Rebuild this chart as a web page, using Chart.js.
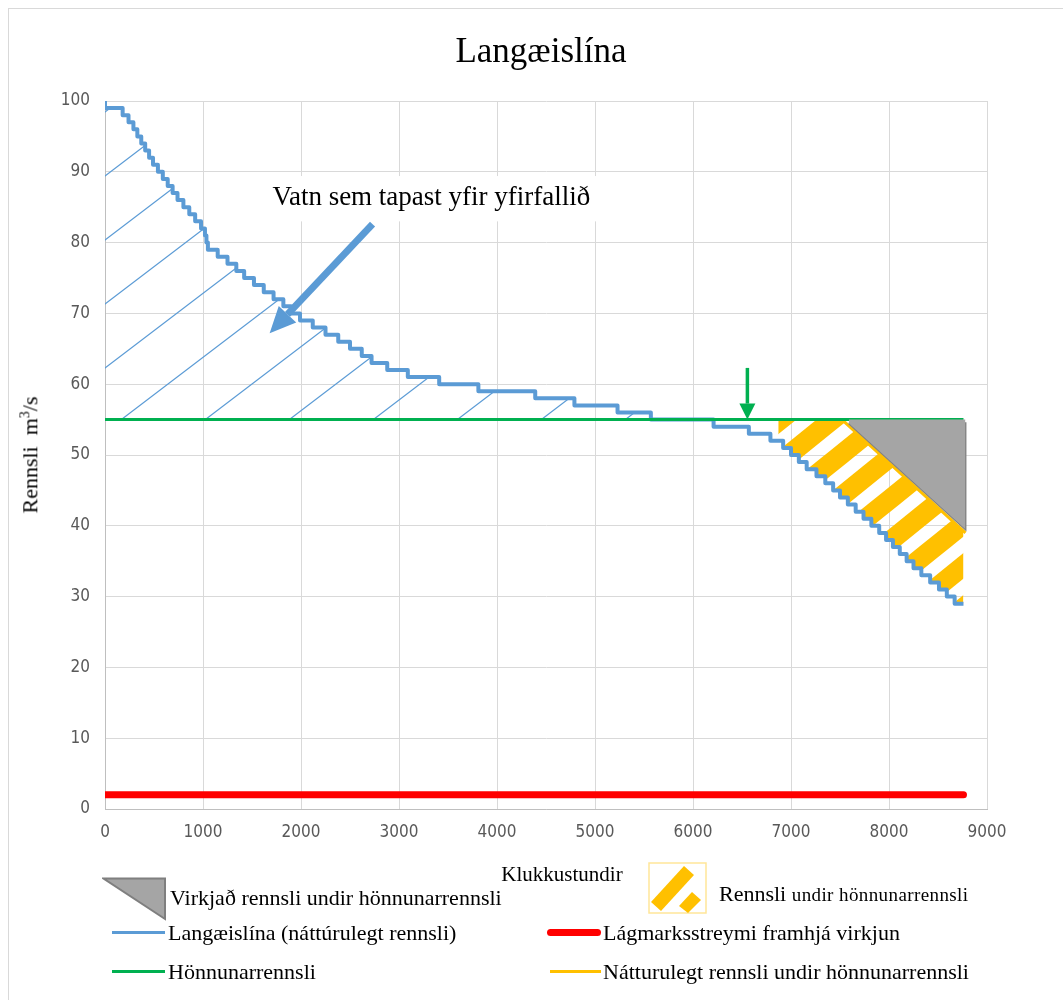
<!DOCTYPE html>
<html lang="is">
<head>
<meta charset="UTF-8">
<title>Langæislína</title>
<style>
    html, body {
        margin: 0;
        padding: 0;
        background: #fff;
        overflow: hidden;
    }

    #wrap {
        position: relative;
        width: 1063px;
        height: 1000px;
    }

    #frame {
        position: absolute;
        left: 8px;
        top: 8px;
        width: 1100px;
        height: 1100px;
        border: 1px solid #d9d9d9;
        box-sizing: border-box;
    }

    #chartBox {
        position: absolute;
        left: 0;
        top: 0;
        width: 1063px;
        height: 1000px;
    }

    .serif {
        position: absolute;
        font-family: 'Liberation Serif', 'Times New Roman', serif;
        color: #000;
        white-space: nowrap;
        line-height: 1;
    }

    .swatch {
        position: absolute;
    }
</style>
</head>
<body>
<div id="wrap">
    <div id="frame"></div>
    <div id="chartBox"><canvas id="durationChart"></canvas></div>

    <div class="serif" style="left:541px; top:33px; font-size:35px; transform:translateX(-50%);">Langæislína</div>
    <div class="serif" style="left:30px; top:455px; font-size:22px; transform:translate(-50%,-50%) rotate(-90deg);">Rennsli&nbsp; m<sup style="font-size:14px">3</sup>/s</div>
    <div class="serif" style="left:562px; top:864px; font-size:21px; transform:translateX(-50%);">Klukkustundir</div>

    <!-- sérsniðin skýring -->
    <svg class="swatch" style="left:102px; top:877px" width="66" height="46">
        <polygon points="1.5,1.5 63,1.5 63,42" fill="#A5A5A5" stroke="#7F7F7F" stroke-width="2"/>
    </svg>
    <div class="serif" style="left:170px; top:887px; font-size:22px;">Virkjað rennsli undir hönnunarrennsli</div>

    <svg class="swatch" style="left:648px; top:862px" width="60" height="53">
        <rect x="1" y="1" width="57" height="50" fill="none" stroke="#FFE699" stroke-width="1.5"/>
        <polygon points="3,40 36,4 46,13 13,49" fill="#FFC000"/>
        <polygon points="31,44 44,30 53,38 40,51" fill="#FFC000"/>
    </svg>
    <div class="serif" style="left:719px; top:883px;"><span style="font-size:22px">Rennsli </span><span style="font-size:19px; letter-spacing:0.4px">undir hönnunarrennsli</span></div>

    <div class="swatch" style="left:112px; top:931px; width:53px; height:3px; background:#5B9BD5;"></div>
    <div class="serif" style="left:168px; top:922px; font-size:22px;">Langæislína (náttúrulegt rennsli)</div>

    <div class="swatch" style="left:547px; top:929px; width:54px; height:7px; background:#FF0000; border-radius:4px;"></div>
    <div class="serif" style="left:603px; top:922px; font-size:22px;">Lágmarksstreymi framhjá virkjun</div>

    <div class="swatch" style="left:112px; top:970px; width:53px; height:3px; background:#00B050;"></div>
    <div class="serif" style="left:168px; top:961px; font-size:22px;">Hönnunarrennsli</div>

    <div class="swatch" style="left:550px; top:970px; width:51px; height:3px; background:#FFC000;"></div>
    <div class="serif" style="left:603px; top:961px; font-size:22px;">Nátturulegt rennsli undir hönnunarrennsli</div>
</div>

<script src="https://cdn.jsdelivr.net/npm/chart.js"></script>
<script>
    // Langæislína: rennsli (m3/s) og klukkustundin þar sem hvert þrep byrjar
    const flowLevels = [
        100, 99, 98, 97, 96, 95, 94, 93, 92, 91, 90, 89, 88, 87, 86, 85, 84, 83, 82, 81,
        80, 79, 78, 77, 76, 75, 74, 73, 72, 71, 70, 69, 68, 67, 66, 65, 64, 63, 62, 61,
        60, 59, 58, 57, 56, 55, 54, 53, 52, 51, 50, 49, 48, 47, 46, 45, 44, 43, 42, 41,
        40, 39, 38, 37, 36, 35, 34, 33, 32, 31, 30, 29
    ];
    const levelStartHours = [
        0, 180, 240, 290, 330, 370, 410, 450, 490, 540, 590, 640, 690, 740, 800, 860, 920, 980, 1020, 1035,
        1050, 1150, 1250, 1340, 1420, 1520, 1620, 1720, 1820, 1900, 1990, 2120, 2250, 2380, 2500, 2620, 2720, 2880, 3090, 3410,
        3810, 4390, 4790, 5230, 5570, 6210, 6570, 6790, 6920, 7000, 7080, 7160, 7260, 7350, 7430, 7500, 7580, 7660, 7740, 7820,
        7900, 7970, 8040, 8110, 8180, 8250, 8330, 8420, 8510, 8590, 8670, 8740
    ];
    const curveEndHours = 8760;

    // Hönnunarrennsli og lágmarksstreymi
    const designHours = [0, 8760];
    const designFlow = [55, 55];
    const minHours = [0, 8760];
    const minFlow = [2, 2];

    // Náttúrulegt rennsli undir hönnunarrennsli (efri mörk gula svæðisins)
    const naturalHours = [6870, 7520, 8780];
    const naturalFlow = [55, 55, 39];

    // Virkjað rennsli undir hönnunarrennsli (þríhyrningur)
    const triHours = [7590, 8780, 8780, 7590];
    const triFlow = [54.5, 39.5, 54.5, 54.5];

    // Ásar
    const xTicks = [0, 1000, 2000, 3000, 4000, 5000, 6000, 7000, 8000, 9000];
    const yTicks = [0, 10, 20, 30, 40, 50, 60, 70, 80, 90, 100];

    // Skýringartexti og örvar (í gildum ásanna)
    const noteText = 'Vatn sem tapast yfir yfirfallið';
    const noteAt = [3330, 86.3];
    const noteBox = [1530, 5460, 89.4, 83.0];
    const lossArrow = [[2730, 82.6], [1680, 67.2]];
    const designArrow = [[6555, 62.3], [6555, 55]];

    function toPoints(xs, ys) {
        return xs.map((x, i) => ({ x: x, y: ys[i] }));
    }

    function stripePattern(w, h, lineWidth, color) {
        const c = document.createElement('canvas');
        c.width = w;
        c.height = h;
        const g = c.getContext('2d');
        g.strokeStyle = color;
        g.lineWidth = lineWidth;
        [-w, 0, w].forEach(dx => {
            g.beginPath();
            g.moveTo(dx - w, 2 * h);
            g.lineTo(dx + 2 * w, -h);
            g.stroke();
        });
        return g.createPattern(c, 'repeat');
    }

    function drawArrow(ctx, x1, y1, x2, y2, width, headLen, headWidth, color) {
        const ang = Math.atan2(y2 - y1, x2 - x1);
        const bx = x2 - Math.cos(ang) * headLen;
        const by = y2 - Math.sin(ang) * headLen;
        ctx.save();
        ctx.strokeStyle = color;
        ctx.fillStyle = color;
        ctx.lineWidth = width;
        ctx.beginPath();
        ctx.moveTo(x1, y1);
        ctx.lineTo(bx, by);
        ctx.stroke();
        ctx.beginPath();
        ctx.moveTo(x2, y2);
        ctx.lineTo(bx + Math.sin(ang) * headWidth / 2, by - Math.cos(ang) * headWidth / 2);
        ctx.lineTo(bx - Math.sin(ang) * headWidth / 2, by + Math.cos(ang) * headWidth / 2);
        ctx.closePath();
        ctx.fill();
        ctx.restore();
    }

    const notes = {
        id: 'notes',
        beforeDatasetsDraw(chart) {
            const { ctx, scales: { x, y } } = chart;
            ctx.save();
            ctx.fillStyle = '#fff';
            const l = x.getPixelForValue(noteBox[0]);
            const r = x.getPixelForValue(noteBox[1]);
            const t = y.getPixelForValue(noteBox[2]);
            const b = y.getPixelForValue(noteBox[3]);
            ctx.fillRect(l, t, r - l, b - t);
            ctx.restore();
        },
        afterDatasetsDraw(chart) {
            const { ctx, scales: { x, y } } = chart;
            drawArrow(ctx,
                x.getPixelForValue(lossArrow[0][0]), y.getPixelForValue(lossArrow[0][1]),
                x.getPixelForValue(lossArrow[1][0]), y.getPixelForValue(lossArrow[1][1]),
                7, 26, 24, '#5B9BD5');
            drawArrow(ctx,
                x.getPixelForValue(designArrow[0][0]), y.getPixelForValue(designArrow[0][1]),
                x.getPixelForValue(designArrow[1][0]), y.getPixelForValue(designArrow[1][1]),
                3.5, 16, 16, '#00B050');
            ctx.save();
            ctx.font = "27px 'Liberation Serif', 'Times New Roman', serif";
            ctx.fillStyle = '#000';
            ctx.textAlign = 'center';
            ctx.textBaseline = 'middle';
            ctx.fillText(noteText, x.getPixelForValue(noteAt[0]), y.getPixelForValue(noteAt[1]));
            ctx.restore();
        }
    };

    function createChart() {
        const ctx = document.getElementById('durationChart').getContext('2d');
        const hatch = stripePattern(84, 64, 1.2, '#5B9BD5');
        const stripes = stripePattern(52, 42, 20, '#FFC000');
        const none = 'rgba(0,0,0,0)';
        const tickFont = { family: "'DejaVu Sans Condensed', 'Liberation Sans Narrow', Arial, sans-serif", size: 17 };

        const curveHours = levelStartHours.concat([curveEndHours]);
        const curveFlow = flowLevels.concat([flowLevels[flowLevels.length - 1]]);

        new Chart(ctx, {
            type: 'line',
            data: {
                datasets: [
                    {
                        label: 'Virkjað rennsli undir hönnunarrennsli',
                        data: toPoints(triHours.slice(0, 2), triFlow.slice(0, 2)),
                        borderWidth: 0,
                        backgroundColor: '#A5A5A5',
                        fill: { value: 55 }
                    },
                    {
                        label: 'Virkjað rennsli (útlína)',
                        data: toPoints(triHours.concat([triHours[0]]), triFlow.concat([triFlow[0]])),
                        borderColor: '#7F7F7F',
                        borderWidth: 2,
                        fill: false
                    },
                    {
                        label: 'Hönnunarrennsli',
                        data: toPoints(designHours, designFlow),
                        borderColor: '#00B050',
                        borderWidth: 3,
                        fill: false
                    },
                    {
                        label: 'Langæislína (náttúrulegt rennsli)',
                        data: toPoints(curveHours, curveFlow),
                        stepped: 'after',
                        borderColor: '#5B9BD5',
                        borderWidth: 4,
                        borderJoinStyle: 'round',
                        fill: { target: 2, above: hatch, below: none }
                    },
                    {
                        label: 'Lágmarksstreymi framhjá virkjun',
                        data: toPoints(minHours, minFlow),
                        borderColor: '#FF0000',
                        borderWidth: 7,
                        borderCapStyle: 'round',
                        fill: false
                    },
                    {
                        label: 'Nátturulegt rennsli undir hönnunarrennsli',
                        data: toPoints(naturalHours, naturalFlow),
                        borderColor: '#FFC000',
                        borderWidth: 3,
                        fill: { target: 3, above: stripes, below: none }
                    }
                ]
            },
            options: {
                responsive: true,
                maintainAspectRatio: false,
                animation: false,
                events: [],
                layout: { padding: { left: 10, right: 76, top: 101, bottom: 151 } },
                elements: { point: { radius: 0 }, line: { tension: 0 } },
                plugins: {
                    legend: { display: false },
                    title: { display: false },
                    tooltip: { enabled: false },
                    filler: { propagate: false }
                },
                scales: {
                    x: {
                        type: 'linear',
                        min: 0,
                        max: 9000,
                        afterBuildTicks: s => { s.ticks = xTicks.map(v => ({ value: v })); },
                        afterFit: s => { s.height = 40; },
                        ticks: { padding: 13, color: '#595959', font: tickFont, callback: v => String(v) },
                        grid: { color: '#D9D9D9', drawTicks: false },
                        border: { color: '#BFBFBF' }
                    },
                    y: {
                        min: 0,
                        max: 100,
                        afterBuildTicks: s => { s.ticks = yTicks.map(v => ({ value: v })); },
                        afterFit: s => { s.width = 95; },
                        ticks: { padding: 15, color: '#595959', font: tickFont, callback: v => String(v) },
                        grid: { color: '#D9D9D9', drawTicks: false },
                        border: { color: '#BFBFBF' }
                    }
                }
            },
            plugins: [notes]
        });
    }

    window.onload = createChart;
</script>
</body>
</html>
